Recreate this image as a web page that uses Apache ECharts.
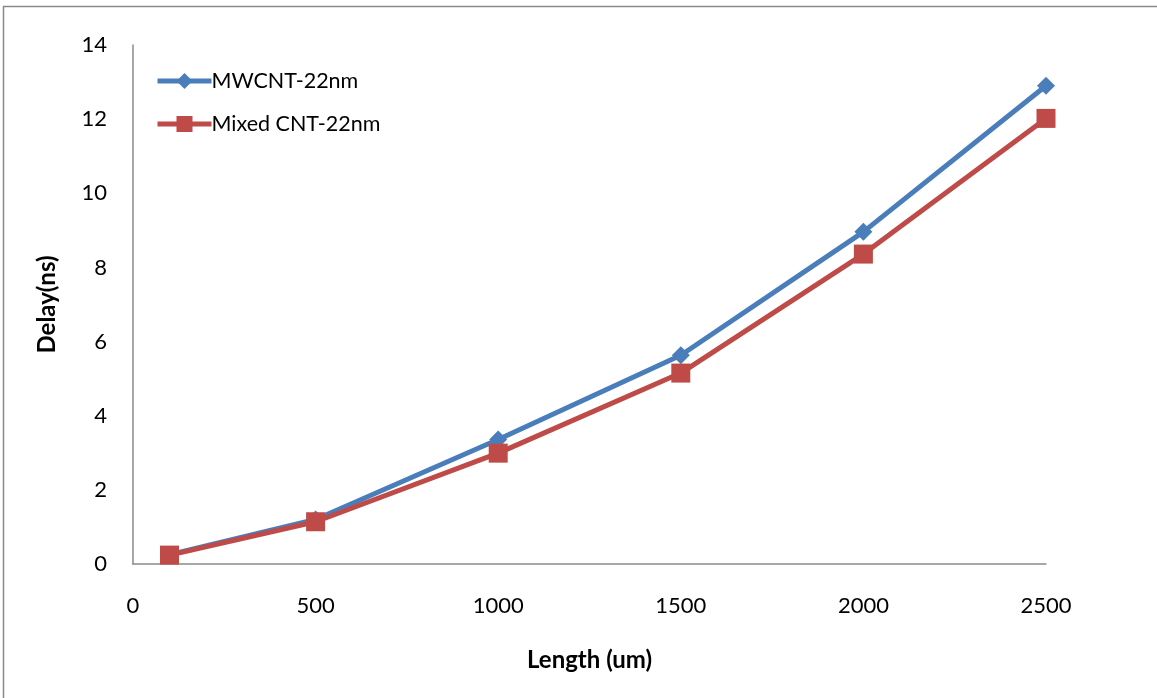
<!DOCTYPE html>
<html>
<head>
<meta charset="utf-8">
<script src="https://cdn.jsdelivr.net/npm/echarts@6/dist/echarts.min.js"></script>
<style>html,body{margin:0;padding:0;background:#fff}#c{width:1157px;height:698px}</style>
</head>
<body>
<div id="c"></div>
<script>
const lengths = [100, 500, 1000, 1500, 2000, 2500];
const mwcnt = [0.25, 1.2, 3.36, 5.63, 8.96, 12.9];
const mixed = [0.24, 1.14, 2.99, 5.15, 8.36, 12.02];
const seriesNames = ['MWCNT-22nm', 'Mixed CNT-22nm'];
const xTitle = 'Length (um)';
const yTitle = 'Delay(ns)';

const font = 'Lato, "Open Sans", sans-serif';
const chart = echarts.init(document.getElementById('c'));
chart.setOption({
  animation: false,
  backgroundColor: '#fff',
  graphic: [{
    type: 'rect', shape: {x: 3.5, y: 6.5, width: 1170, height: 710},
    style: {fill: 'none', stroke: '#8a8a8a', lineWidth: 1.5}, silent: true, z: -1
  }],
  grid: {left: 133, right: 111, top: 45, bottom: 134},
  legend: {
    left: 150, top: 65, orient: 'vertical', itemGap: 21,
    itemWidth: 54, itemHeight: 20,
    lineStyle: {width: 5},
    textStyle: {fontFamily: font, fontSize: 21.5, color: '#000', padding: [0, 0, 0, -5]},
    data: seriesNames
  },
  xAxis: {
    type: 'value', min: 0, max: 2500, interval: 500,
    name: xTitle, nameLocation: 'middle', nameGap: 84,
    nameTextStyle: {fontFamily: font, fontSize: 24, fontWeight: 'bold', color: '#000'},
    axisLine: {show: true, lineStyle: {color: '#8a8a8a', width: 1.5}},
    axisTick: {show: false},
    splitLine: {show: false},
    axisLabel: {fontFamily: font, fontSize: 22, color: '#000', margin: 31, formatter: v => String(v)}
  },
  yAxis: {
    type: 'value', min: 0, max: 14, interval: 2,
    name: yTitle, nameLocation: 'middle', nameGap: 74,
    nameTextStyle: {fontFamily: font, fontSize: 24, fontWeight: 'bold', color: '#000'},
    axisLine: {show: true, lineStyle: {color: '#8a8a8a', width: 1.5}},
    axisTick: {show: false},
    splitLine: {show: false},
    axisLabel: {fontFamily: font, fontSize: 22, color: '#000', margin: 26}
  },
  series: [
    {
      name: seriesNames[0], type: 'line',
      data: lengths.map((x, i) => [x, mwcnt[i]]),
      symbol: 'diamond', symbolSize: 18,
      lineStyle: {color: '#4a7ebb', width: 5},
      itemStyle: {color: '#4a7ebb'}
    },
    {
      name: seriesNames[1], type: 'line',
      data: lengths.map((x, i) => [x, mixed[i]]),
      symbol: 'rect', symbolSize: 19,
      lineStyle: {color: '#be4b48', width: 5},
      itemStyle: {color: '#be4b48'}
    }
  ]
});
</script>
</body>
</html>
